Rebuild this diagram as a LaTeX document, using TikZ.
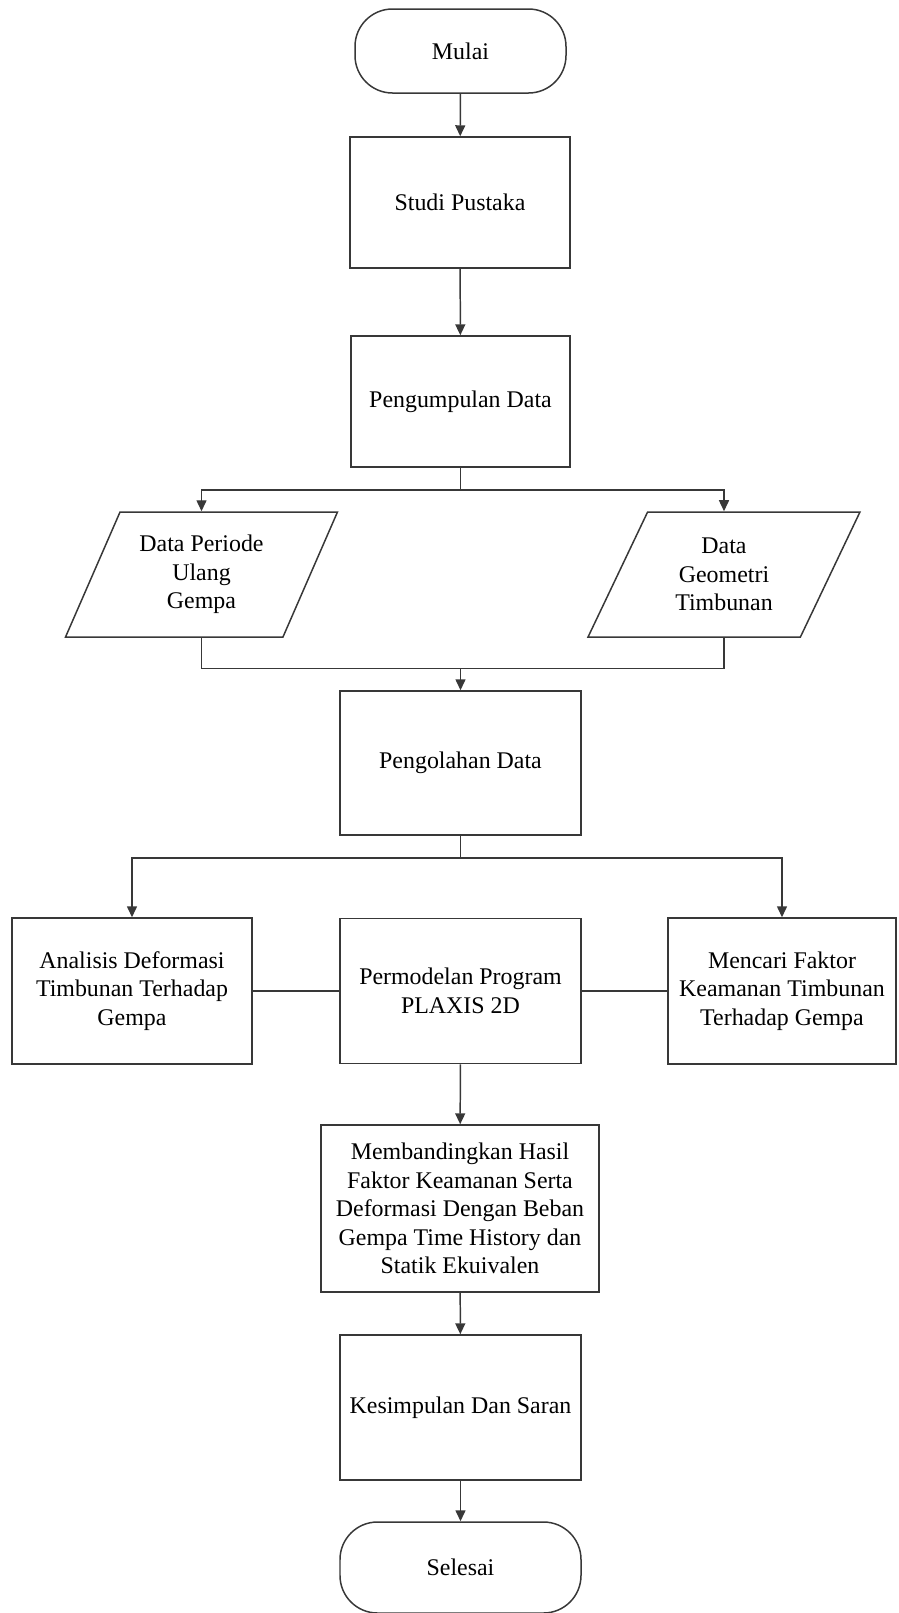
\documentclass[tikz,border=0pt]{standalone}
\usepackage{fontspec}
\setmainfont{Liberation Serif}
\usetikzlibrary{arrows.meta, positioning, calc, shapes.geometric}

\begin{document}
\begin{tikzpicture}[
    every node/.style={font=\fontsize{13.6}{16.2}\selectfont, align=center},
    line/.style={draw=black!78, line width=0.85pt},
    arr/.style={line, -{Triangle[length=0.22cm, width=0.2cm]}},
    terminal/.style={line, rectangle, rounded corners=0.75cm},
    process/.style={line, rectangle},
    io/.style={line, trapezium, trapezium left angle=63.3, trapezium right angle=116.7,
      trapezium stretches=true, minimum width=5.44cm, minimum height=2.5cm}]
  \useasboundingbox (0,0) rectangle (17.98,-32.26);
  % Start and first steps
  \node[terminal, minimum width=4.22cm, minimum height=1.68cm] (mulai) at (9.21,-1.02) {Mulai};
  \node[process, minimum width=4.4cm, minimum height=2.62cm] (studi) at (9.2,-4.05) {Studi Pustaka};
  \node[process, minimum width=4.38cm, minimum height=2.62cm] (kumpul) at (9.21,-8.03) {Pengumpulan Data};
  \draw[arr] (mulai) -- (studi);
  \draw[arr] (studi) -- (kumpul);
  % Input data
  \node[io] (periode) at (4.03,-11.49) {Data Periode\\Ulang\\Gempa};
  \node[io] (geometri) at (14.48,-11.49) {Data\\Geometri\\Timbunan};
  \coordinate (split1) at ($(kumpul.south)+(0,-0.44)$);
  \draw[line] (kumpul.south) -- (split1);
  \draw[arr] (split1) -| (periode.north);
  \draw[arr] (split1) -| (geometri.north);
  % Processing
  \node[process, minimum width=4.82cm, minimum height=2.88cm] (olah) at (9.21,-15.26) {Pengolahan Data};
  \coordinate (join1) at ($(olah.north)+(0,0.44)$);
  \draw[line] (periode.south) |- (join1) -| (geometri.south);
  \draw[arr] (join1) -- (olah.north);
  % Analysis row
  \node[process, minimum width=4.8cm, minimum height=2.92cm] (analisis) at (2.64,-19.82) {Analisis Deformasi\\Timbunan Terhadap\\Gempa};
  \node[process, minimum width=4.82cm, minimum height=2.9cm] (model) at (9.21,-19.82) {Permodelan Program\\PLAXIS 2D};
  \node[process, minimum width=4.56cm, minimum height=2.92cm] (cari) at (15.64,-19.82) {Mencari Faktor\\Keamanan Timbunan\\Terhadap Gempa};
  \coordinate (split2) at ($(olah.south)+(0,-0.44)$);
  \draw[line] (olah.south) -- (split2);
  \draw[arr] (split2) -| (analisis.north);
  \draw[arr] (split2) -| (cari.north);
  \draw[line] (analisis) -- (model);
  \draw[line] (model) -- (cari);
  % Comparison and end
  \node[process, minimum width=5.56cm, minimum height=3.34cm] (banding) at (9.2,-24.17) {Membandingkan Hasil\\Faktor Keamanan Serta\\Deformasi Dengan Beban\\Gempa Time History dan\\Statik Ekuivalen};
  \node[process, minimum width=4.82cm, minimum height=2.9cm] (simpul) at (9.21,-28.15) {Kesimpulan Dan Saran};
  \node[terminal, minimum width=4.82cm, minimum height=1.82cm] (selesai) at (9.21,-31.35) {Selesai};
  \draw[arr] (model) -- (banding);
  \draw[arr] (banding) -- (simpul);
  \draw[arr] (simpul) -- (selesai);
\end{tikzpicture}
\end{document}
